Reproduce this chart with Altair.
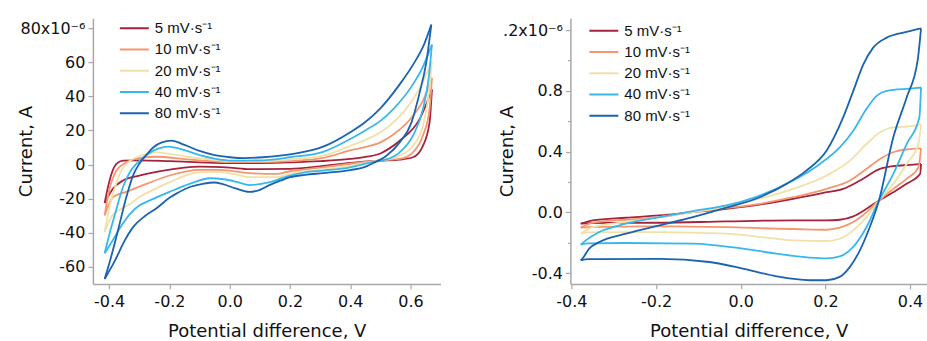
import altair as alt
import pandas as pd

# Scan-rate legend entries and line colours
LABELS = ["\u20075 mV·s⁻¹", "10 mV·s⁻¹", "20 mV·s⁻¹", "40 mV·s⁻¹", "80 mV·s⁻¹"]
COLORS = ["#a5233d", "#f4976f", "#f1e0a8", "#38b7ec", "#1a63ae"]

# ---- Left electrode: current in µA vs potential in V ----
# each voltammogram is split into its upper and lower branch (both listed by increasing potential)
left_5_upper = [(-0.415, -22.5), (-0.405, -14), (-0.395, -7), (-0.376, 0.4), (-0.354, 2.3), (-0.3, 2.5),
                (-0.2, 2.0), (-0.1, 1.3), (0.0, 0.8), (0.1, 0.9), (0.2, 1.3), (0.3, 2.0), (0.4, 3.3),
                (0.45, 4.5), (0.5, 6.5), (0.53, 9.5), (0.564, 14), (0.63, 26.6), (0.671, 44)]
left_5_lower = [(-0.415, -22.5), (-0.387, -14), (-0.354, -9.3), (-0.3, -6.4), (-0.22, -3.5), (-0.1, -1.2),
                (0.0, -1.8), (0.066, -2.7), (0.2, -2.5), (0.3, -1.0), (0.4, 1.0), (0.5, 2.3), (0.564, 2.9),
                (0.608, 4.3), (0.641, 11), (0.663, 24.6), (0.671, 44)]

left_10_upper = [(-0.415, -29.7), (-0.4, -15), (-0.388, -8), (-0.376, -3.5), (-0.343, 1.3), (-0.3, 3.8),
                 (-0.243, 4.6), (-0.15, 3.2), (-0.1, 2.5), (0.0, 1.4), (0.1, 1.4), (0.2, 2.0), (0.31, 3.9),
                 (0.4, 8.3), (0.45, 10.3), (0.5, 13), (0.542, 17.5), (0.608, 28.5), (0.64, 37), (0.671, 50.8)]
left_10_lower = [(-0.415, -29.7), (-0.4, -23), (-0.387, -19), (-0.343, -16), (-0.276, -11.3), (-0.2, -6.4),
                 (-0.1, -3.1), (-0.033, -3.1), (0.066, -5.0), (0.155, -5.5), (0.2, -3.9), (0.3, -1.8),
                 (0.4, 0.5), (0.45, 1.6), (0.5, 2.5), (0.564, 3.3), (0.608, 7.2), (0.641, 17), (0.663, 32.4),
                 (0.671, 50.8)]

left_20_upper = [(-0.415, -39.4), (-0.395, -22), (-0.38, -13), (-0.365, -5.4), (-0.33, 2.3), (-0.29, 5.5),
                 (-0.243, 7.2), (-0.19, 6.0), (-0.13, 4.3), (-0.05, 2.8), (0.0, 2.0), (0.1, 2.0), (0.2, 3.0),
                 (0.31, 5.2), (0.4, 11), (0.45, 14.5), (0.5, 19), (0.53, 22.7), (0.608, 38.3), (0.64, 48),
                 (0.671, 60.6)]
left_20_lower = [(-0.415, -39.4), (-0.39, -30), (-0.365, -26.5), (-0.33, -23), (-0.3, -19), (-0.25, -14.5),
                 (-0.2, -10.3), (-0.1, -4.5), (-0.033, -4.3), (0.02, -5.8), (0.066, -7.4), (0.155, -7.4),
                 (0.2, -5.5), (0.25, -4.0), (0.31, -2.8), (0.4, -0.8), (0.45, 1.0), (0.5, 2.6), (0.52, 2.9),
                 (0.564, 5.2), (0.608, 11), (0.641, 22.7), (0.661, 42), (0.671, 60.6)]

left_40_upper = [(-0.415, -52), (-0.395, -38), (-0.38, -28.7), (-0.354, -13), (-0.33, -4), (-0.31, 0.4),
                 (-0.265, 7.0), (-0.235, 9.5), (-0.205, 10.5), (-0.15, 8.5), (-0.1, 5.5), (-0.05, 3.5),
                 (0.01, 2.3), (0.11, 2.5), (0.2, 4.3), (0.31, 7.5), (0.4, 15), (0.45, 20), (0.5, 25.6),
                 (0.542, 32.4), (0.608, 47), (0.64, 57), (0.671, 70.3)]
left_40_lower = [(-0.415, -52), (-0.387, -44), (-0.36, -36), (-0.33, -28.7), (-0.3, -24), (-0.265, -21),
                 (-0.2, -16), (-0.133, -11.3), (-0.066, -8), (-0.02, -8.6), (0.02, -10), (0.066, -12),
                 (0.133, -10.3), (0.2, -6.4), (0.25, -4.5), (0.31, -3.5), (0.4, -1.6), (0.45, 0.5),
                 (0.48, 1.8), (0.52, 3.0), (0.564, 7.2), (0.608, 17), (0.641, 32.4), (0.661, 51.8),
                 (0.671, 70.3)]

left_80_upper = [(-0.415, -67), (-0.395, -55), (-0.37, -38), (-0.343, -19), (-0.32, -6), (-0.3, 0.5),
                 (-0.275, 6.0), (-0.254, 10), (-0.225, 13), (-0.193, 14), (-0.15, 11.5), (-0.1, 8.0),
                 (-0.05, 5.5), (0.0, 4.3), (0.05, 3.8), (0.11, 4.3), (0.2, 6.0), (0.31, 10.5), (0.4, 19),
                 (0.45, 25), (0.5, 33), (0.564, 47), (0.61, 59), (0.645, 70.5), (0.669, 82)]
left_80_lower = [(-0.415, -67), (-0.38, -56), (-0.35, -45), (-0.32, -36.5), (-0.28, -30), (-0.243, -25.6),
                 (-0.2, -19.5), (-0.177, -17), (-0.13, -13), (-0.09, -11.3), (-0.05, -10.5), (-0.023, -11.5),
                 (0.02, -14), (0.066, -16), (0.1, -14.8), (0.13, -12.2), (0.17, -9.3), (0.2, -7.4),
                 (0.25, -6.0), (0.31, -5.0), (0.4, -3.2), (0.447, -1.5), (0.475, 0.8), (0.5, 2.9),
                 (0.52, 5.2), (0.564, 13), (0.603, 24.6), (0.63, 42), (0.652, 59.6), (0.669, 82)]

# ---- Right electrode: current in µA vs potential in V ----
right_5_upper = [(-0.378, -0.074), (-0.35, -0.052), (-0.271, -0.035), (-0.192, -0.02), (-0.113, 0.002),
                 (-0.034, 0.024), (0.045, 0.052), (0.124, 0.09), (0.203, 0.133), (0.242, 0.155),
                 (0.282, 0.21), (0.329, 0.286), (0.36, 0.304), (0.4, 0.313), (0.426, 0.319)]
right_5_lower = [(-0.378, -0.074), (-0.36, -0.07), (-0.192, -0.068), (-0.034, -0.059), (0.124, -0.052),
                 (0.2026, -0.052), (0.234, -0.048), (0.2658, -0.026), (0.2973, 0.024), (0.3266, 0.079),
                 (0.3605, 0.133), (0.392, 0.188), (0.424, 0.254), (0.426, 0.319)]

right_10_upper = [(-0.378, -0.1), (-0.35, -0.068), (-0.271, -0.048), (-0.192, -0.031), (-0.113, 0.002),
                  (-0.034, 0.028), (0.045, 0.057), (0.124, 0.1), (0.203, 0.155), (0.258, 0.21),
                  (0.297, 0.286), (0.329, 0.352), (0.36, 0.396), (0.4, 0.417), (0.426, 0.422)]
right_10_lower = [(-0.378, -0.1), (-0.36, -0.096), (-0.192, -0.092), (-0.034, -0.096), (0.084, -0.107),
                  (0.124, -0.109), (0.2026, -0.114), (0.234, -0.1), (0.2658, -0.063), (0.2973, 0.002),
                  (0.3266, 0.079), (0.3605, 0.155), (0.392, 0.221), (0.4198, 0.297), (0.426, 0.422)]

right_20_upper = [(-0.378, -0.14), (-0.35, -0.096), (-0.271, -0.063), (-0.192, -0.031), (-0.113, 0.002),
                  (-0.034, 0.039), (0.045, 0.09), (0.124, 0.155), (0.203, 0.243), (0.258, 0.341),
                  (0.297, 0.45), (0.329, 0.527), (0.36, 0.56), (0.4, 0.566), (0.426, 0.577)]
right_20_lower = [(-0.378, -0.14), (-0.36, -0.131), (-0.192, -0.129), (-0.034, -0.14), (0.084, -0.173),
                  (0.124, -0.184), (0.2026, -0.188), (0.234, -0.173), (0.2658, -0.118), (0.2973, -0.031),
                  (0.3266, 0.079), (0.3605, 0.188), (0.392, 0.319), (0.4198, 0.45), (0.426, 0.577)]

right_40_upper = [(-0.378, -0.212), (-0.366, -0.184), (-0.334, -0.129), (-0.271, -0.074), (-0.192, -0.031),
                  (-0.113, 0.009), (-0.034, 0.046), (0.045, 0.111), (0.124, 0.21), (0.187, 0.319),
                  (0.234, 0.428), (0.266, 0.538), (0.297, 0.68), (0.321, 0.767), (0.345, 0.8),
                  (0.4, 0.815), (0.426, 0.822)]
right_40_lower = [(-0.378, -0.212), (-0.36, -0.203), (-0.271, -0.201), (-0.113, -0.205), (0.005, -0.238),
                  (0.084, -0.271), (0.163, -0.297), (0.2026, -0.302), (0.234, -0.289), (0.2658, -0.227),
                  (0.2973, -0.096), (0.3266, 0.079), (0.3605, 0.254), (0.392, 0.45), (0.422, 0.625),
                  (0.426, 0.822)]

right_80_upper = [(-0.378, -0.315), (-0.374, -0.304), (-0.358, -0.238), (-0.334, -0.195), (-0.271, -0.14),
                  (-0.192, -0.085), (-0.113, -0.031), (-0.034, 0.031), (0.045, 0.1), (0.108, 0.188),
                  (0.155, 0.275), (0.203, 0.407), (0.242, 0.625), (0.266, 0.8), (0.29, 0.975),
                  (0.313, 1.084), (0.345, 1.15), (0.384, 1.183), (0.426, 1.211)]
right_80_lower = [(-0.378, -0.315), (-0.36, -0.307), (-0.192, -0.306), (-0.074, -0.326), (0.005, -0.369),
                  (0.084, -0.42), (0.163, -0.446), (0.203, -0.446), (0.234, -0.424), (0.258, -0.358),
                  (0.2816, -0.249), (0.305, -0.096), (0.3266, 0.079), (0.3605, 0.494), (0.392, 0.756),
                  (0.418, 1.0), (0.426, 1.211)]

LEFT_CURVES = [(left_5_upper, left_5_lower), (left_10_upper, left_10_lower), (left_20_upper, left_20_lower),
               (left_40_upper, left_40_lower), (left_80_upper, left_80_lower)]
RIGHT_CURVES = [(right_5_upper, right_5_lower), (right_10_upper, right_10_lower),
                (right_20_upper, right_20_lower), (right_40_upper, right_40_lower),
                (right_80_upper, right_80_lower)]


def to_frame(curves):
    rows = []
    for label, (upper, lower) in zip(LABELS, curves):
        for branch, pts in (("upper", upper), ("lower", lower)):
            for x, y in pts:
                rows.append({"rate": label, "branch": label + branch, "x": x, "y": y})
    return pd.DataFrame(rows)


FONT = "DejaVu Sans"
LEGEND_FONT = "Liberation Sans"
AXIS_GREY = "#a8a8a8"
MINUS_FIX = "replace(format(datum.value, '{fmt}'), '\u2212', '-')"

axis_common = dict(
    grid=False, domainColor=AXIS_GREY, domainWidth=1.5, tickColor=AXIS_GREY, tickWidth=1.2,
    labelFont=FONT, labelFontSize=16, labelColor="#111111", titleFont=FONT, titleFontSize=18,
    titleFontWeight="normal", titleColor="#111111",
)


def legend(x, y):
    return alt.Legend(
        title=None, orient="none", legendX=x, legendY=y, symbolType="stroke", symbolSize=841,
        symbolStrokeWidth=2, clipHeight=19, rowPadding=2.3, labelFont=LEGEND_FONT, labelFontSize=15,
        labelColor="#111111", labelOffset=5, padding=0, labelLimit=200,
    )


def panel(df, xdom, ydom, xvals, yaxis, width, height, leg):
    return alt.Chart(df).mark_line(interpolate="monotone", strokeWidth=1.8).encode(
        x=alt.X("x:Q", scale=alt.Scale(domain=xdom, nice=False, zero=False),
                axis=alt.Axis(values=xvals, labelExpr=MINUS_FIX.format(fmt=".1f"), tickSize=5,
                              labelPadding=5, title="Potential difference, V", titleY=53,
                              titleBaseline="alphabetic", **axis_common)),
        y=alt.Y("y:Q", scale=alt.Scale(domain=ydom, nice=False, zero=False), axis=yaxis),
        color=alt.Color("rate:N", scale=alt.Scale(domain=LABELS, range=COLORS), legend=leg),
        detail="branch:N",
    ).properties(width=width, height=height)


left_y_axis = alt.Axis(
    values=[-60, -40, -20, 0, 20, 40, 60, 80], tickSize=5, labelPadding=3,
    labelExpr="datum.value == 80 ? '80x10⁻⁶' : " + MINUS_FIX.format(fmt="d"),
    title="Current, A", titleX=-61, titleBaseline="alphabetic", **axis_common,
)

right_y_axis = alt.Axis(
    values=[-0.4, -0.2, 0, 0.2, 0.4, 0.6, 0.8, 1.0, 1.2],
    tickSize={"condition": {"test": "round(datum.value * 10) % 4 == 0", "value": 5}, "value": 3},
    labelPadding=3,
    labelExpr="datum.value > 1.1 ? '.2x10⁻⁶' : (round(datum.value * 10) % 4 == 0 ? "
              + MINUS_FIX.format(fmt=".1f") + " : '')",
    title="Current, A", titleX=-58, titleBaseline="alphabetic", **axis_common,
)

left = panel(to_frame(LEFT_CURVES), [-0.454, 0.6995], [-69.9, 85.8],
             [-0.4, -0.2, 0.0, 0.2, 0.4, 0.6], left_y_axis, 348, 266, legend(26, 0.5))
right = panel(to_frame(RIGHT_CURVES), [-0.4024, 0.4401], [-0.47, 1.278],
              [-0.4, -0.2, 0.0, 0.2, 0.4], right_y_axis, 357, 266, legend(18, 3))

chart = alt.hconcat(left, right, spacing=130, bounds="flush").resolve_scale(
    color="independent").resolve_legend(color="independent").configure_view(
    stroke=None).properties(padding={"left": 18, "top": 18, "right": 0, "bottom": 0})

chart.save("out.html", embed_options={"renderer": "svg", "actions": False})
